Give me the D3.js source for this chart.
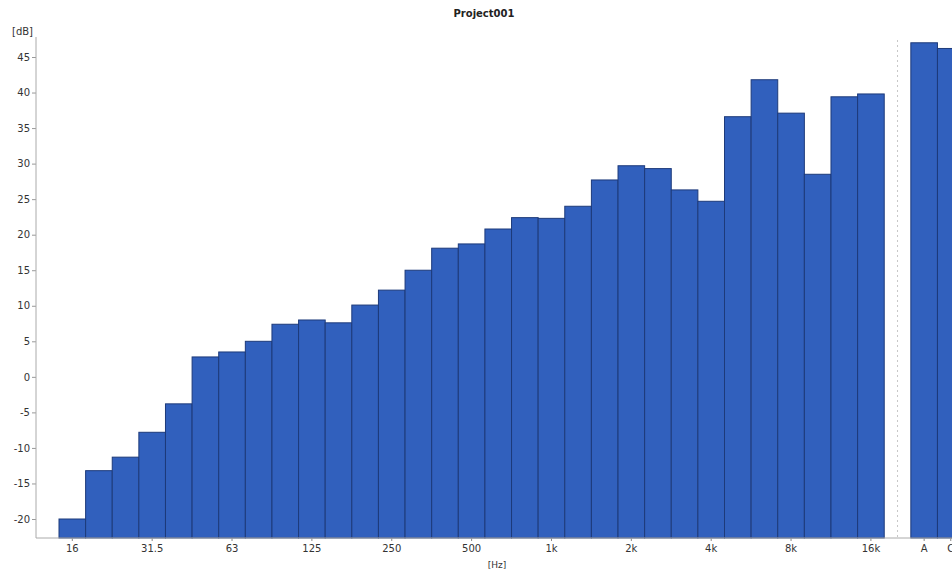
<!DOCTYPE html>
<html>
<head>
<meta charset="utf-8">
<script src="https://cdn.jsdelivr.net/npm/d3@7"></script>
<style>
  html, body { margin: 0; padding: 0; background: #fff; overflow: hidden; }
  svg { display: block; }
  text { font-family: "DejaVu Sans", Verdana, sans-serif; }
</style>
</head>
<body>
<svg id="chart" width="952" height="571"></svg>
<script>
// Third-octave bands
const bands = ["16","20","25","31.5","40","50","63","80","100","125","160","200","250","315","400","500","630","800","1k","1.25k","1.6k","2k","2.5k","3.15k","4k","5k","6.3k","8k","10k","12.5k","16k"];
const bandValues = [-20.0,-13.2,-11.3,-7.8,-3.8,2.8,3.5,5.0,7.4,8.0,7.6,10.1,12.2,15.0,18.1,18.7,20.8,22.4,22.3,24.0,27.7,29.7,29.3,26.3,24.7,36.6,41.8,37.1,28.5,39.4,39.8];
// Overall weighted levels
const overall = ["A","C"];
const overallValues = [47.0, 46.2];
// Axis tick labels
const xTickLabels = ["16","31.5","63","125","250","500","1k","2k","4k","8k","16k","A","C"];
const yTicks = [45,40,35,30,25,20,15,10,5,0,-5,-10,-15,-20];
const title = "Project001";
const yUnit = "[dB]";
const xUnit = "[Hz]";

const svg = d3.select("#chart");
const plotLeft = 36, plotBottom = 538, plotTop = 37;
const gapKey = "__gap__";
const domain = bands.concat([gapKey], overall);
const bandW = 26.62;
const x = d3.scaleBand().domain(domain).range([59, 59 + domain.length * bandW]).paddingInner(0).paddingOuter(0);
const y = d3.scaleLinear().domain([-20, 45]).range([519, 57]);

const data = bands.map((b, i) => ({k: b, v: bandValues[i]}))
  .concat(overall.map((b, i) => ({k: b, v: overallValues[i]})));

// Separator dotted line
const gx = x(gapKey) + x.bandwidth() / 2;
svg.append("line")
  .attr("x1", gx).attr("x2", gx)
  .attr("y1", 40).attr("y2", plotBottom)
  .attr("stroke", "#c8c8c8").attr("stroke-width", 1)
  .attr("stroke-dasharray", "2,3");

// Bars
svg.append("g").selectAll("rect").data(data).join("rect")
  .attr("x", d => x(d.k))
  .attr("y", d => y(d.v))
  .attr("width", x.bandwidth())
  .attr("height", d => plotBottom - y(d.v))
  .attr("fill", "#3160bd")
  .attr("stroke", "#1d3a7a")
  .attr("stroke-width", 1);

// Y axis
const yAxis = d3.axisLeft(y).tickValues(yTicks).tickSize(4).tickPadding(2).tickFormat(d => String(d));
const gy = svg.append("g").attr("transform", `translate(${plotLeft},0)`).call(yAxis);
gy.select(".domain").remove();
gy.selectAll(".tick line").attr("stroke", "#999");
gy.selectAll(".tick text").attr("fill", "#333").attr("font-size", 10);
svg.append("line").attr("x1", plotLeft).attr("x2", plotLeft).attr("y1", plotTop).attr("y2", plotBottom)
  .attr("stroke", "#aaa").attr("stroke-width", 1);

// X axis
const xAxis = d3.axisBottom(x).tickValues(xTickLabels).tickSize(3).tickPadding(4);
const gxa = svg.append("g").attr("transform", `translate(0,${plotBottom})`).call(xAxis);
gxa.select(".domain").remove();
gxa.selectAll(".tick line").attr("stroke", "#888");
gxa.selectAll(".tick text").attr("fill", "#333").attr("font-size", 10);
svg.append("line").attr("x1", plotLeft).attr("x2", 952).attr("y1", plotBottom).attr("y2", plotBottom)
  .attr("stroke", "#aaa").attr("stroke-width", 1);

// Labels
svg.append("text").attr("x", 484).attr("y", 17).attr("text-anchor", "middle")
  .attr("font-size", 10).attr("font-weight", "bold").attr("fill", "#222").text(title);
svg.append("text").attr("x", 33).attr("y", 35).attr("text-anchor", "end")
  .attr("font-size", 10).attr("fill", "#333").text(yUnit);
svg.append("text").attr("x", 497).attr("y", 568).attr("text-anchor", "middle")
  .attr("font-size", 9).attr("fill", "#333").text(xUnit);
</script>
</body>
</html>
